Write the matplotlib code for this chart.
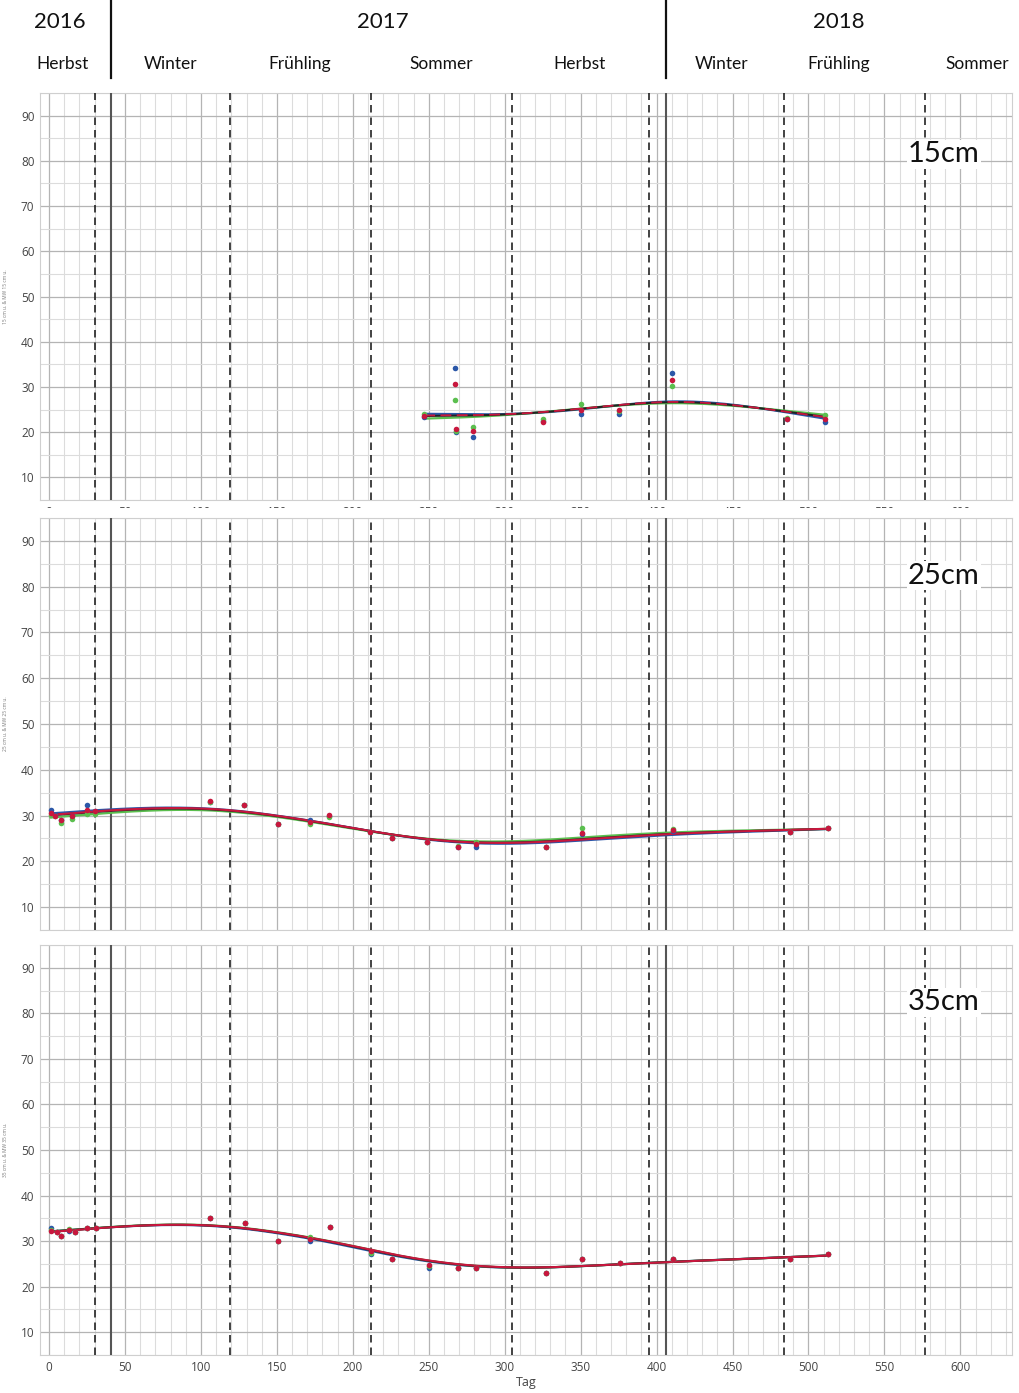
import numpy as np
import matplotlib
matplotlib.use("Agg")
import matplotlib.pyplot as plt
from matplotlib.ticker import MultipleLocator
from matplotlib.patches import Rectangle

# ---- data: day since start, soil temperature per sensor ----
days_15 = [247, 267, 268, 279, 325, 350, 375, 410, 486, 511]
blue_15 = [23.3, 34.1, 20.0, 19.0, 22.5, 24.1, 24.1, 33.1, 23.0, 22.3]
green_15 = [24.0, 27.1, 20.2, 21.1, 23.0, 26.2, 24.6, 30.1, 23.1, 23.9]
red_15 = [23.6, 30.6, 20.8, 20.2, 22.3, 25.0, 25.0, 31.6, 23.0, 23.0]

days_25 = [1, 4, 8, 15, 25, 30, 106, 128, 151, 172, 184, 211, 226, 249, 269, 281, 327, 351, 411, 488, 513]
blue_25 = [31.2, 30.2, 29.0, 30.0, 32.3, 31.0, 33.0, 32.2, 28.2, 29.1, 30.0, 26.3, 25.2, 24.2, 23.2, 23.2, 23.2, 26.0, 26.6, 26.3, 27.2]
green_25 = [30.1, 29.9, 28.4, 29.3, 30.3, 30.3, 33.0, 32.2, 28.2, 28.2, 29.6, 26.3, 25.2, 24.2, 23.3, 24.3, 23.2, 27.3, 27.0, 26.3, 27.3]
red_25 = [30.6, 30.0, 29.1, 29.8, 31.3, 31.1, 33.1, 32.3, 28.2, 28.7, 30.2, 26.3, 25.2, 24.2, 23.2, 23.8, 23.2, 26.2, 26.9, 26.3, 27.3]

days_35 = [1, 5, 8, 13, 17, 25, 31, 106, 129, 151, 172, 185, 212, 226, 250, 269, 281, 327, 351, 376, 411, 488, 513]
blue_35 = [32.9, 32.0, 31.1, 32.2, 32.0, 32.9, 32.9, 35.1, 34.0, 30.0, 30.0, 33.1, 27.1, 26.1, 24.2, 24.2, 24.0, 23.1, 26.0, 25.1, 26.0, 26.0, 27.1]
green_35 = [32.5, 32.0, 31.1, 32.7, 32.0, 32.9, 32.9, 35.1, 34.0, 30.0, 31.0, 33.1, 27.5, 26.1, 24.5, 24.2, 24.0, 23.1, 26.0, 25.1, 26.0, 26.0, 27.1]
red_35 = [32.2, 32.0, 31.1, 32.4, 32.0, 32.9, 32.9, 35.1, 34.0, 30.0, 30.5, 33.1, 27.8, 26.1, 24.7, 24.2, 24.0, 23.1, 26.0, 25.1, 26.0, 26.0, 27.1]

depth_labels = ["15cm", "25cm", "35cm"]
ylabels = ["15 cm u. & MW 15 cm u.", "25 cm u. & MW 25 cm u.", "35 cm u. & MW 35 cm u."]

year_starts = [41, 406]
season_starts = [30, 119, 212, 305, 395, 484, 577]
years = ["2016", "2017", "2018"]
year_pos = [7, 220, 520]
seasons = ["Herbst", "Winter", "Frühling", "Sommer", "Herbst", "Winter", "Frühling", "Sommer"]
season_pos = [9, 80, 165, 258, 349, 443, 520, 611]

C_BLUE = "#2b57a8"
C_GREEN = "#5bbf4f"
C_RED = "#c8173e"


def smooth_spline(x, y, lam=1.2e5):
    """Penalised (Whittaker) smoother on a daily grid, second differences."""
    x = np.asarray(x, float)
    y = np.asarray(y, float)
    x0, x1 = int(np.floor(x.min())), int(np.ceil(x.max()))
    grid = np.arange(x0, x1 + 1, dtype=float)
    n = len(grid)
    Wd = np.zeros(n)
    Wy = np.zeros(n)
    for xi, yi in zip(x, y):
        j = int(round(xi)) - x0
        Wd[j] += 1.0
        Wy[j] += yi
    D = np.diff(np.eye(n), 2, axis=0)
    A = np.diag(Wd) + lam * D.T @ D
    z = np.linalg.solve(A, Wy)
    return grid, z


plt.rcParams['font.family'] = ['Open Sans', 'DejaVu Sans']
W, H = 1019, 1393
fig = plt.figure(figsize=(W / 100, H / 100), dpi=100)


def ax_rect(left, top, right, bottom):
    return [left / W, 1 - bottom / H, (right - left) / W, (bottom - top) / H]


rects = [ax_rect(40, 93, 1012, 500), ax_rect(40, 518, 1012, 930), ax_rect(40, 945, 1012, 1355)]
panels = [
    (days_15, blue_15, green_15, red_15),
    (days_25, blue_25, green_25, red_25),
    (days_35, blue_35, green_35, red_35),
]

axes = []
for i, (rect, (d, b, g, r)) in enumerate(zip(rects, panels)):
    ax = fig.add_axes(rect)
    axes.append(ax)
    ax.set_xlim(-6, 634)
    ax.set_ylim(5, 95)
    ax.xaxis.set_major_locator(MultipleLocator(50))
    ax.xaxis.set_minor_locator(MultipleLocator(10))
    ax.yaxis.set_major_locator(MultipleLocator(10))
    ax.yaxis.set_minor_locator(MultipleLocator(5))
    ax.set_yticks(range(10, 91, 10))
    ax.grid(which="major", color="#b4b4b4", lw=0.9)
    ax.grid(which="minor", color="#dcdcdc", lw=0.8)
    ax.set_axisbelow(True)
    for sp in ax.spines.values():
        sp.set_color("#cfcfcf")
        sp.set_linewidth(0.8)
    ax.tick_params(which="both", length=0, labelsize=8.5, labelcolor="#444444", pad=4)
    if i == 1:
        ax.set_xticklabels([])
    ax.set_ylabel(ylabels[i], fontsize=3.5, color="#777777", labelpad=9)

    for xs in year_starts:
        ax.axvline(xs, color="#555555", lw=1.5, zorder=3)
    for xs in season_starts:
        ax.axvline(xs, color="#222222", lw=1.2, ls=(0, (4.5, 3)), zorder=3)

    gx, fb = smooth_spline(d, b)
    _, fg = smooth_spline(d, g)
    _, fr = smooth_spline(d, r)
    fm = (fb + fg + fr) / 3
    ax.plot(gx, fb, color=C_BLUE, lw=1.6, zorder=4)
    ax.plot(gx, fg, color=C_GREEN, lw=1.6, zorder=4)
    ax.plot(gx, fm, color="#222222", lw=1.5, zorder=5)
    if i == 0:
        ax.plot(gx, fr, color=C_RED, lw=1.3, ls=(0, (6, 3)), zorder=6)
    else:
        ax.plot(gx, fr, color=C_RED, lw=1.5, zorder=6)

    ax.scatter(d, b, s=16, color=C_BLUE, zorder=7, lw=0)
    ax.scatter(d, g, s=16, color=C_GREEN, zorder=8, lw=0)
    ax.scatter(d, r, s=16, color=C_RED, zorder=9, lw=0)

    ax.text(0.93, 0.85 if i == 0 else 0.86, depth_labels[i], transform=ax.transAxes,
            ha="center", va="center", fontsize=21, family=["Lato", "DejaVu Sans"],
            color="#111111", zorder=10,
            bbox=dict(facecolor="white", edgecolor="none", pad=1))

axes[2].set_xlabel("Tag", fontsize=9, color="#444444", labelpad=2)

# top panel tick labels are cut off by the panel below
fig.patches.append(Rectangle((0, 1 - 517 / H), 1, (517 - 508) / H, transform=fig.transFigure,
                             facecolor="white", edgecolor="none", zorder=20))

# header: years and seasons
hdr = fig.add_axes(ax_rect(40, 0, 1012, 80))
hdr.set_xlim(-6, 634)
hdr.set_ylim(0, 1)
hdr.axis("off")
for xs in year_starts:
    hdr.axvline(xs, color="#111111", lw=1.6, ymin=0.02, ymax=1)
for t, p in zip(years, year_pos):
    hdr.text(p, 0.72, t, ha="center", va="center", fontsize=16, family=["Lato", "DejaVu Sans"], color="#111111")
for t, p in zip(seasons, season_pos):
    hdr.text(p, 0.2, t, ha="center", va="center", fontsize=12.5, family=["Lato", "DejaVu Sans"], color="#111111")

fig.savefig("out.png", dpi=100, facecolor="white")
